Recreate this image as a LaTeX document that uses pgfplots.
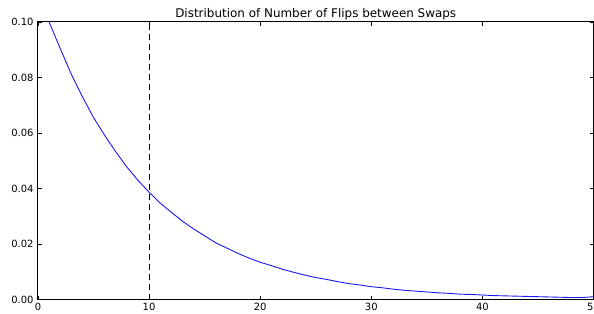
\documentclass[border=0pt]{standalone}
\usepackage{pgfplots}
\pgfplotsset{compat=1.18}
\usepackage{fontspec}
\setmainfont{DejaVu Sans}
\begin{document}
\fontsize{10}{12}\selectfont
\begin{tikzpicture}
\begin{axis}[
  scale only axis,
  width=556bp, height=278bp,
  xmin=0, xmax=50, ymin=0, ymax=0.1,
  xtick={0,10,20,30,40,50},
  ytick={0,0.02,0.04,0.06,0.08,0.1},
  tick align=inside,
  major tick length=4bp,
  tick style={black, line width=0.6bp},
  axis line style={black, line width=1bp},
  scaled y ticks=false,
  /pgf/number format/assume math mode=true,
  yticklabel style={/pgf/number format/fixed, /pgf/number format/fixed zerofill, /pgf/number format/precision=2, xshift=-1bp},
  xticklabel style={/pgf/number format/fixed, /pgf/number format/precision=0},
  ticklabel style={font=\fontsize{10}{12}\selectfont},
  title={Distribution of Number of Flips between Swaps},
  title style={font=\fontsize{12}{14}\selectfont, at={(0.5,1)}, anchor=base, yshift=-1bp},
  clip=false,
]
\addplot[black, line width=0.9bp, dash pattern=on 6bp off 4bp] coordinates {(10,0) (10,0.1)};
\addplot[color={rgb,1:red,0.1;green,0.1;blue,0.95}, line width=0.9bp, mark=none] coordinates {
(1,0.1000) (2,0.0905) (3,0.0812) (4,0.0731) (5,0.0656) (6,0.0592) (7,0.0533)
(8,0.0478) (9,0.0430) (10,0.0387) (11,0.0348) (12,0.0315) (13,0.0283)
(14,0.0255) (15,0.0230) (16,0.0205) (17,0.0186) (18,0.0167) (19,0.0150)
(20,0.0135) (21,0.0123) (22,0.0110) (23,0.0099) (24,0.0089) (25,0.0080)
(26,0.0073) (27,0.0065) (28,0.0058) (29,0.0053) (30,0.0047) (31,0.0043)
(32,0.0038) (33,0.0034) (34,0.0031) (35,0.0028) (36,0.0025) (37,0.0023)
(38,0.0020) (39,0.0019) (40,0.0017) (41,0.0015) (42,0.0014) (43,0.0013)
(44,0.0012) (45,0.0011) (46,0.0010) (47,0.0009) (48,0.0008) (49,0.0008) (50,0.0011)
};
\end{axis}
\pgfresetboundingbox
\path (current axis.south west) ++(-38bp,-14bp) coordinate (bl);
\path (current axis.north east) ++(0.5bp,22bp) coordinate (tr);
\useasboundingbox (bl) rectangle (tr);
\end{tikzpicture}
\end{document}
